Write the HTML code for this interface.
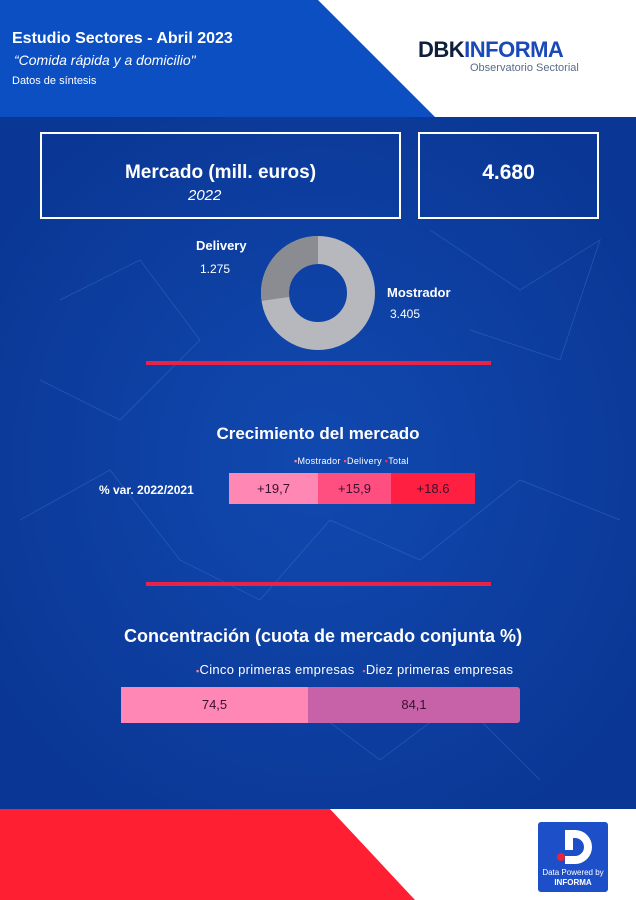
<!DOCTYPE html>
<html><head><meta charset="utf-8"><style>
body{margin:0;width:636px;height:900px;position:relative;overflow:hidden;font-family:"Liberation Sans",sans-serif;background:#0a3a9c}
.a{position:absolute}
.c{color:#fff}
</style></head><body>
<svg class="a" style="left:0;top:0" width="636" height="900">
<defs><radialGradient id="g" cx="50%" cy="50%" r="60%"><stop offset="0" stop-color="#1149b0"/><stop offset="1" stop-color="#0a3795"/></radialGradient></defs>
<rect x="0" y="117" width="636" height="692" fill="url(#g)"/>
<g stroke="#3f7fd0" stroke-width="1" opacity="0.35" fill="none">
<path d="M20 520 L110 470 L180 560 L260 600 L330 520 L420 560 L520 480 L620 520"/>
<path d="M60 300 L140 260 L200 340 L120 420 L40 380"/>
<path d="M430 230 L520 290 L600 240 L560 360 L470 330"/>
<path d="M300 700 L380 760 L460 700 L540 780"/>
</g>
<rect x="0" y="0" width="636" height="117" fill="#0b4fc3"/>
<polygon points="318,0 636,0 636,117 435,117" fill="#fff"/>
<rect x="0" y="809" width="636" height="91" fill="#fff"/>
<polygon points="0,809 330,809 415,900 0,900" fill="#fe1f33"/>
<rect x="146" y="361" width="345" height="4" fill="#e8234a"/>
<rect x="146" y="582" width="345" height="4" fill="#e8234a"/>
<circle cx="318" cy="293" r="43" fill="none" stroke="#b6b8be" stroke-width="28"/>
<path d="M318 236 A57 57 0 0 0 261.6 300.9 L289.3 297.0 A29 29 0 0 1 318 264 Z" fill="#8b8c92"/>
<rect x="538" y="822" width="70" height="70" rx="3" fill="#1d4fc8"/>
<path d="M565 830 h10 a17 17 0 0 1 0 34 h-10 v-8 h10 a9 9 0 0 0 0 -18 h-2 v12 h-8 z" fill="#fff"/>
<circle cx="561" cy="857" r="4" fill="#e8233a"/>
</svg>
<div class="a c" style="left:12px;top:30px;font-weight:bold;font-size:16px">Estudio Sectores - Abril 2023</div>
<div class="a c" style="left:14px;top:52px;font-style:italic;font-size:14px">“Comida rápida y a domicilio"</div>
<div class="a c" style="left:12px;top:75px;font-size:11px">Datos de síntesis</div>
<div class="a" style="left:418px;top:37px;font-weight:bold;font-size:22px;letter-spacing:-0.5px;color:#0d1f3c">DBK<span style="color:#1a49b8">INFORMA</span></div>
<div class="a" style="left:470px;top:62px;font-size:11px;color:#5a6b8a">Observatorio Sectorial</div>
<div class="a" style="left:40px;top:132px;width:357px;height:83px;border:2px solid #fff"></div>
<div class="a c" style="left:40px;top:162px;width:361px;text-align:center;font-weight:bold;font-size:19px">Mercado (mill. euros)</div>
<div class="a c" style="left:188px;top:187px;font-style:italic;font-size:15px">2022</div>
<div class="a" style="left:418px;top:132px;width:177px;height:83px;border:2px solid #fff"></div>
<div class="a c" style="left:418px;top:161px;width:181px;text-align:center;font-weight:bold;font-size:21px">4.680</div>
<div class="a c" style="left:196px;top:238px;font-weight:bold;font-size:13px">Delivery</div>
<div class="a c" style="left:200px;top:262px;font-size:12px">1.275</div>
<div class="a c" style="left:387px;top:285px;font-weight:bold;font-size:13px">Mostrador</div>
<div class="a c" style="left:390px;top:307px;font-size:12px">3.405</div>
<div class="a c" style="left:0;top:424px;width:636px;text-align:center;font-weight:bold;font-size:17px">Crecimiento del mercado</div>
<div class="a c" style="left:294px;top:456px;font-size:9px;letter-spacing:0.3px"><span style="color:#ff85b0">▪</span>Mostrador <span style="color:#ff4d7d">▪</span>Delivery <span style="color:#ff2b4b">▪</span>Total</div>
<div class="a c" style="left:99px;top:483px;font-weight:bold;font-size:12px">% var. 2022/2021</div>
<div class="a" style="left:229px;top:473px;width:89px;height:31px;background:#ff87b3;font-size:13px;line-height:31px;text-align:center;color:#3a1030">+19,7</div>
<div class="a" style="left:318px;top:473px;width:73px;height:31px;background:#ff4f80;font-size:13px;line-height:31px;text-align:center;color:#3a1030">+15,9</div>
<div class="a" style="left:391px;top:473px;width:84px;height:31px;background:#ff1f40;font-size:13px;line-height:31px;text-align:center;color:#3a1030">+18.6</div>
<div class="a c" style="left:124px;top:626px;font-weight:bold;font-size:18px">Concentración (cuota de mercado conjunta %)</div>
<div class="a c" style="left:196px;top:662px;font-size:13px;letter-spacing:0.3px"><span style="color:#ff85b5;font-size:9px">▪</span>Cinco primeras empresas &nbsp;<span style="color:#c85fa8;font-size:9px">▪</span>Diez primeras empresas</div>
<div class="a" style="left:121px;top:687px;width:187px;height:36px;background:#ff87b6;font-size:13px;line-height:36px;text-align:center;color:#3a1030">74,5</div>
<div class="a" style="left:308px;top:687px;width:212px;height:36px;background:#c862a8;border-radius:0 3px 3px 0;font-size:13px;line-height:36px;text-align:center;color:#3a1030">84,1</div>
<div class="a c" style="left:538px;top:868px;width:70px;text-align:center;font-size:8px;line-height:10px">Data Powered by<br><b>INFORMA</b></div>
</body></html>
